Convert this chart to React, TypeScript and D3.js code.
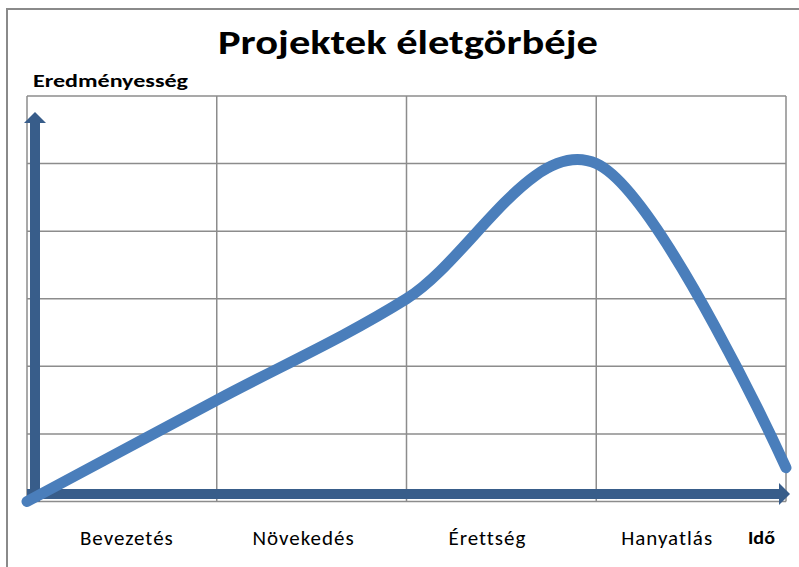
import React from "react";
import * as d3 from "d3";

const title = "Projektek életgörbéje";
const yAxisLabel = "Eredményesség";
const xAxisLabel = "Idő";
const phases = ["Bevezetés", "Növekedés", "Érettség", "Hanyatlás"];
const phaseLabelShift = [5, -8, -14, -24];
const curveX = [0, 1, 2, 3, 4];
const curveY = [0, 1.5, 3, 5, 0.5];
const yTicks = [0, 1, 2, 3, 4, 5, 6];
const xTicks = [0, 1, 2, 3, 4];

const W = 799;
const H = 567;
const plot = { left: 27, right: 786, top: 96, bottom: 501.5 };

export default function App() {
  const x = d3.scaleLinear().domain([0, 4]).range([plot.left, plot.right]);
  const y = d3.scaleLinear().domain([0, 6]).range([plot.bottom, plot.top]);
  const pts: [number, number][] = curveX.map((v, i) => [v, curveY[i]]);
  const line = d3
    .line<[number, number]>()
    .x((d) => x(d[0]))
    .y((d) => y(d[1]))
    .curve(d3.curveCardinal.tension(0));
  const path = line(pts) || "";
  const axisColor = "#385D8A";
  const font = "Carlito, Calibri, 'Open Sans', 'Noto Sans', sans-serif";

  const vx = x(0) + 8;
  const hy = y(0) - 7.5;

  return (
    <svg
      width={W}
      height={H}
      style={{ position: "absolute", left: 0, top: 0, background: "#fff" }}
    >
      <rect x={7} y={9} width={820} height={620} fill="#fff" stroke="#8a8a8a" strokeWidth={2} />
      {yTicks.map((t) => (
        <line key={"h" + t} x1={plot.left} x2={plot.right} y1={y(t)} y2={y(t)} stroke="#8c8c8c" strokeWidth={1.5} />
      ))}
      {xTicks.map((t) => (
        <line key={"v" + t} x1={x(t)} x2={x(t)} y1={plot.top} y2={plot.bottom} stroke="#8c8c8c" strokeWidth={1.5} />
      ))}
      {/* vertical axis arrow */}
      <line x1={vx} x2={vx} y1={y(0)} y2={123} stroke={axisColor} strokeWidth={10} />
      <polygon points={`${vx - 11},${123} ${vx + 11},${123} ${vx},${112}`} fill={axisColor} />
      {/* horizontal axis arrow */}
      <line x1={x(0)} x2={779} y1={hy} y2={hy} stroke={axisColor} strokeWidth={10} />
      <polygon points={`779,${hy - 11} 779,${hy + 11} 790,${hy}`} fill={axisColor} />
      {/* curve */}
      <path d={path} fill="none" stroke="#4A7EBB" strokeWidth={11} strokeLinecap="round" />
      <text x={408} y={54} textAnchor="middle" fontFamily={font} fontWeight="bold" fontSize={34} textLength={380} lengthAdjust="spacingAndGlyphs" fill="#000">
        {title}
      </text>
      <text x={33} y={87} fontFamily={font} fontWeight="bold" fontSize={17} textLength={155} lengthAdjust="spacingAndGlyphs" fill="#000">
        {yAxisLabel}
      </text>
      {phases.map((p, i) => (
        <text
          key={p}
          x={x(i + 0.5) + phaseLabelShift[i]}
          y={545}
          textAnchor="middle"
          fontFamily={font}
          fontSize={21}
          letterSpacing={1}
          fill="#000"
        >
          {p}
        </text>
      ))}
      <text x={748} y={544} fontFamily={font} fontWeight="bold" fontSize={18} textLength={27} lengthAdjust="spacingAndGlyphs" fill="#000">
        {xAxisLabel}
      </text>
    </svg>
  );
}
